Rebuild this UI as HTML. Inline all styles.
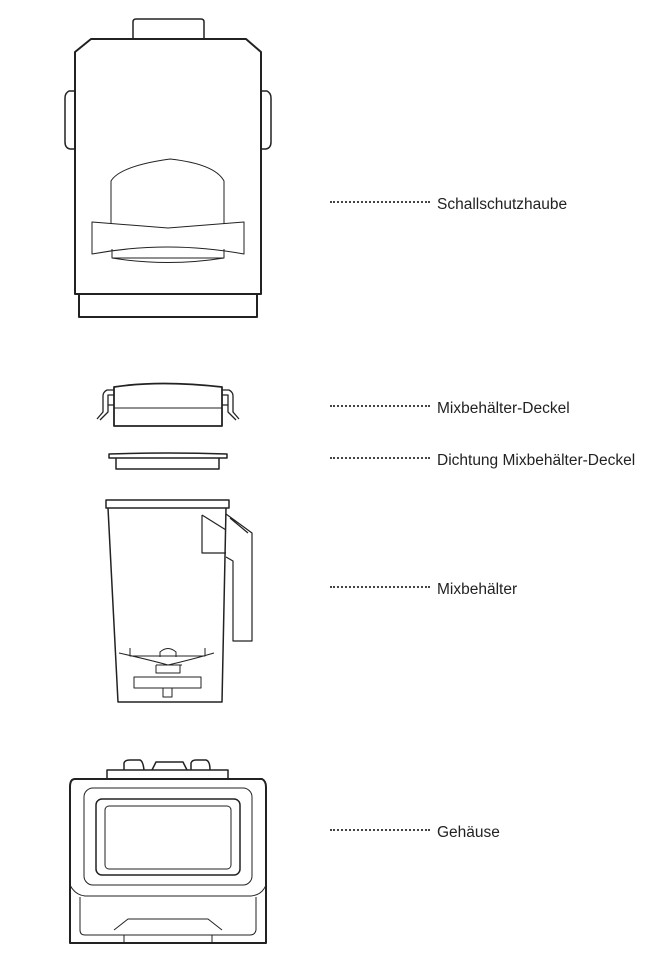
<!DOCTYPE html>
<html><head><meta charset="utf-8"><style>
body{margin:0;background:#fff;width:660px;height:969px;overflow:hidden;position:relative;font-family:"Liberation Sans",sans-serif}
.l{position:absolute;left:330px;font-size:15.5px;color:#222;white-space:nowrap;line-height:18px}
.l span{display:inline-block;width:100px;border-bottom:2px dotted #444;vertical-align:middle;margin-right:7px;position:relative;top:-3px}
</style></head><body>
<svg width="660" height="969" style="position:absolute;left:0;top:0" fill="none" stroke="#222" stroke-linejoin="round">
<!-- hood -->
<path d="M133,39 V22 Q133,19 136,19 H201 Q204,19 204,22 V39" stroke-width="1.5"/>
<path d="M75,294 V52 L91,39 H246 L261,52 V294 Z" stroke-width="2"/>
<path d="M75,91 H69 Q65,93 65,98 V142 Q65,148 70,149 H75" stroke-width="1.5"/>
<path d="M261,91 H267 Q271,93 271,98 V142 Q271,148 266,149 H261" stroke-width="1.5"/>
<path d="M79,294 V317 H257 V294" stroke-width="2"/>
<path d="M111,224 V181 Q120,166 170,159 Q215,164 224,181 V224" stroke-width="1"/>
<path d="M92,222 Q130,225 168,228 Q205,225 244,222 V254 Q205,247 168,247 Q130,247 92,254 Z" stroke-width="1"/>
<path d="M112,249 V258 H224 V249 M112,258 Q168,267 224,258" stroke-width="1"/>
<!-- lid -->
<path d="M114,426 V387 Q160,380 222,387 V426 Z" stroke-width="1.8"/>
<path d="M114,408 H222" stroke-width="1"/>
<path d="M114,390 H107 Q103,392 103,396 V412 L97,419 M114,395 H108 V405 H114 M108,405 V412 L100,420" stroke-width="1.3"/>
<path d="M222,390 H229 Q233,392 233,396 V412 L239,419 M222,395 H228 V405 H222 M228,405 V412 L236,420" stroke-width="1.3"/>
<!-- gasket -->
<path d="M109,454 Q168,452 227,454 V458 H109 Z M116,458 V469 H219 V458" stroke-width="1.5"/>
<!-- jar -->
<path d="M106,500 H229 V508 H106 Z" stroke-width="1.5"/>
<path d="M108,508 L118,702 H222 L226,508" stroke-width="1.5"/>
<path d="M226,514 L252,533 V641 H233 V561 L226,557 M202,515 L226,530 M202,515 V553 H226 M230,518 L248,533" stroke-width="1.2"/>
<path d="M119,653 Q150,660 168,665 Q190,660 214,653 M130,648 V656 H205 V648 M160,657 V652 Q168,645 176,652 V657 M156,665 H182 M156,665 V673 H180 V665 M134,677 H201 V688 H134 Z M163,688 V697 H172 V688" stroke-width="1"/>
<!-- base -->
<path d="M124,770 V763 Q125,760 130,760 H140 Q143,761 144,770 M152,770 L156,762 H183 L187,770 M191,770 V763 Q192,760 196,760 H206 Q210,761 210,770" stroke-width="1.5"/>
<path d="M107,778 V770 H228 V778" stroke-width="1.5"/>
<path d="M70,943 V787 Q70,779 75,779 H262 Q266,781 266,787 V943 Z" stroke-width="2"/>
<rect x="84" y="788" width="168" height="97" rx="9" stroke-width="1"/>
<rect x="96" y="799" width="144" height="76" rx="6" stroke-width="1.5"/>
<rect x="105" y="806" width="126" height="63" rx="4" stroke-width="1"/>
<path d="M70,885 Q75,895 85,896 H251 Q262,895 266,885 M80,897 V930 Q80,935 85,935 H250 Q255,935 256,930 V897" stroke-width="1"/>
<path d="M114,930 L128,919 H208 L222,930 M124,935 V943 M212,935 V943" stroke-width="1"/>
</svg>
<div class="l" style="top:196px"><span></span>Schallschutzhaube</div>
<div class="l" style="top:400px"><span></span>Mixbehälter-Deckel</div>
<div class="l" style="top:452px"><span></span>Dichtung Mixbehälter-Deckel</div>
<div class="l" style="top:581px"><span></span>Mixbehälter</div>
<div class="l" style="top:824px"><span></span>Gehäuse</div>
</body></html>
